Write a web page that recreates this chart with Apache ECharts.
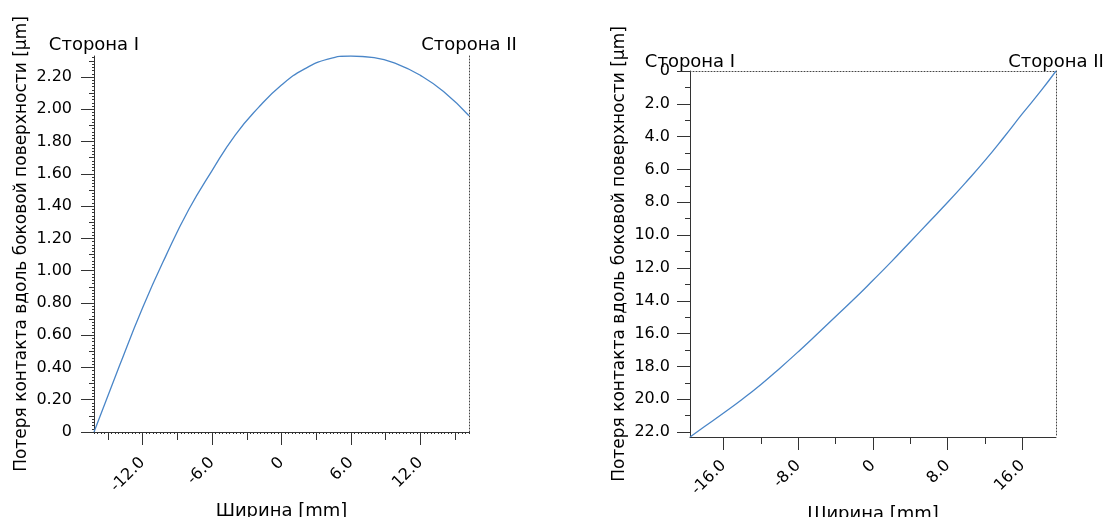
<!DOCTYPE html>
<html><head><meta charset="utf-8">
<script src="https://cdn.jsdelivr.net/npm/echarts@6/dist/echarts.min.js"></script>
<style>html,body{margin:0;padding:0;background:#fff}#c{width:1103px;height:517px}</style>
</head><body><div id="c"></div>
<script>
// ---- data ----
const leftX = [-16.2, -14, -12, -10, -8, -6, -4, -2, 0, 2, 4, 6, 8, 10, 12, 14, 16.2];
const leftY = [0, 0.41, 0.77, 1.09, 1.38, 1.62, 1.84, 2.01, 2.15, 2.25, 2.31, 2.33, 2.32, 2.28, 2.21, 2.11, 1.96];
const rightX = [-19.6, -18, -16, -14, -12, -10, -8, -6, -4, -2, 0, 2, 4, 6, 8, 10, 12, 14, 16, 18, 19.6];
const rightY = [22.3, 21.65, 20.84, 20.0, 19.1, 18.12, 17.1, 16.04, 14.96, 13.88, 12.75, 11.6, 10.4, 9.2, 8.0, 6.75, 5.45, 4.05, 2.6, 1.2, 0];

const leftXTicks = [-12, -6, 0, 6, 12];
const leftXMinor = [-15, -9, -3, 3, 9, 15];
const leftYTicks = [0, 0.2, 0.4, 0.6, 0.8, 1.0, 1.2, 1.4, 1.6, 1.8, 2.0, 2.2];
const leftYMinor = [0.1, 0.3, 0.5, 0.7, 0.9, 1.1, 1.3, 1.5, 1.7, 1.9, 2.1, 2.3];
const rightXTicks = [-16, -8, 0, 8, 16];
const rightXMinor = [-12, -4, 4, 12];
const rightYTicks = [0, 2, 4, 6, 8, 10, 12, 14, 16, 18, 20, 22];
const rightYMinor = [1, 3, 5, 7, 9, 11, 13, 15, 17, 19, 21];

const sideLabels = ['Сторона I', 'Сторона II'];
const xTitle = 'Ширина [mm]';
const yTitle = 'Потеря контакта вдоль боковой поверхности [μm]';

const L = {xmin: -16.2, xmax: 16.2, ymin: 0, ymax: 2.33};
const R = {xmin: -19.6, xmax: 19.6, ymin: 0, ymax: 22.3};

// ---- styling ----
const FONT = 'DejaVu Sans';
const TXT = '#000';
const AX = '#333';
const LINE = '#4a86c8';

function fmtX(v){ return v === 0 ? '0' : v.toFixed(1); }
function fmtYL(v){ return Math.abs(v) < 1e-9 ? '0' : v.toFixed(2); }
function fmtYR(v){ return Math.abs(v) < 1e-9 ? '0' : v.toFixed(1); }

// fine "ruler" ticks for left chart
const fineX = []; for (let v = -16.2; v <= 16.2 + 1e-9; v += 0.3) fineX.push(+v.toFixed(3));
const fineY = []; for (let v = 0; v <= 2.33 + 1e-9; v += 0.02) fineY.push(+v.toFixed(3));

const gL = {left: 94, top: 56, width: 375, height: 376, outerBoundsMode: 'none', containLabel: false};
const gR = {left: 690, top: 71, width: 366, height: 366, outerBoundsMode: 'none', containLabel: false};
const grids = [
  Object.assign({}, gL),   // 0 left main
  Object.assign({}, gL),   // 1 left overlay
  Object.assign({}, gL),   // 2 left fine
  Object.assign({}, gR),   // 3 right main
  Object.assign({}, gR)    // 4 right overlay
];

const baseLabel = {fontFamily: FONT, color: TXT, fontSize: 16};
const hidden = {show: false};

function mainX(grid, ext, ticks, margin, nameGap){
  return {
    type: 'value', gridIndex: grid, position: 'bottom', min: ext.xmin, max: ext.xmax,
    axisLine: {show: true, onZero: false, lineStyle: {color: AX, width: 1}},
    axisTick: {show: true, customValues: ticks, length: 13, lineStyle: {color: AX}},
    axisLabel: Object.assign({}, baseLabel, {customValues: ticks, rotate: 45, margin: margin, formatter: fmtX}),
    splitLine: hidden,
    name: xTitle, nameLocation: 'middle', nameGap: nameGap,
    nameTextStyle: {fontFamily: FONT, color: TXT, fontSize: 18, verticalAlign: 'top'}
  };
}
function minorX(grid, ext, ticks, len){
  return {
    type: 'value', gridIndex: grid, position: 'bottom', min: ext.xmin, max: ext.xmax,
    axisLine: {show: false, onZero: false},
    axisTick: {show: true, customValues: ticks, length: len, lineStyle: {color: AX}},
    axisLabel: hidden, splitLine: hidden
  };
}
function sideX(grid, ext, showLine, margin){
  return {
    type: 'value', gridIndex: grid, position: 'top', min: ext.xmin, max: ext.xmax,
    axisLine: {show: showLine, onZero: false, lineStyle: {color: '#444', type: [1, 2]}},
    axisTick: hidden,
    axisLabel: Object.assign({}, baseLabel, {fontSize: 18, customValues: [ext.xmin, ext.xmax], margin: margin,
      showMinLabel: true, showMaxLabel: true,
      formatter: v => (Math.abs(v - ext.xmin) < 1e-6 ? sideLabels[0] : sideLabels[1])}),
    splitLine: hidden
  };
}
function mainY(grid, ext, ticks, fmt, inverse, margin, nameGap){
  return {
    type: 'value', gridIndex: grid, position: 'left', min: ext.ymin, max: ext.ymax, inverse: inverse,
    axisLine: {show: true, onZero: false, lineStyle: {color: AX, width: 1}},
    axisTick: {show: true, customValues: ticks, length: 13, lineStyle: {color: AX}},
    axisLabel: Object.assign({}, baseLabel, {customValues: ticks, margin: margin, formatter: fmt}),
    splitLine: hidden,
    name: yTitle, nameLocation: 'middle', nameGap: nameGap, nameRotate: 90,
    nameTextStyle: {fontFamily: FONT, color: TXT, fontSize: 17}
  };
}
function minorY(grid, ext, ticks, len, inverse){
  return {
    type: 'value', gridIndex: grid, position: 'left', min: ext.ymin, max: ext.ymax, inverse: inverse,
    axisLine: {show: false, onZero: false},
    axisTick: {show: true, customValues: ticks, length: len, lineStyle: {color: AX}},
    axisLabel: hidden, splitLine: hidden
  };
}
function edgeY(grid, ext, inverse){
  return {
    type: 'value', gridIndex: grid, position: 'right', min: ext.ymin, max: ext.ymax, inverse: inverse,
    axisLine: {show: true, onZero: false, lineStyle: {color: '#444', type: [1, 2]}},
    axisTick: hidden, axisLabel: hidden, splitLine: hidden
  };
}

const option = {
  animation: false,
  backgroundColor: '#fff',
  textStyle: {fontFamily: FONT},
  grid: grids,
  xAxis: [
    mainX(0, L, leftXTicks, 28, 70),       // 0
    minorX(1, L, leftXMinor, 8),           // 1
    sideX(1, L, false, 2),                 // 2
    minorX(2, L, fineX, 2),                // 3
    mainX(3, R, rightXTicks, 26, 68),      // 4
    minorX(4, R, rightXMinor, 7),          // 5
    sideX(4, R, true, 0)                   // 6
  ],
  yAxis: [
    mainY(0, L, leftYTicks, fmtYL, false, 22, 64),  // 0
    minorY(1, L, leftYMinor, 5, false),             // 1
    edgeY(1, L, false),                             // 2
    minorY(2, L, fineY, 2, false),                  // 3
    mainY(3, R, rightYTicks, fmtYR, true, 20, 62),  // 4
    minorY(4, R, rightYMinor, 5, true),             // 5
    edgeY(4, R, true)                               // 6
  ],
  series: [
    {type: 'line', xAxisIndex: 0, yAxisIndex: 0, showSymbol: false, smooth: 0.5,
     lineStyle: {color: LINE, width: 1.3}, data: leftX.map((x, i) => [x, leftY[i]])},
    {type: 'line', xAxisIndex: 4, yAxisIndex: 4, showSymbol: false, smooth: 0.5,
     lineStyle: {color: LINE, width: 1.3}, data: rightX.map((x, i) => [x, rightY[i]])}
  ]
};
const chart = echarts.init(document.getElementById('c'), null, {renderer: 'canvas'});
chart.setOption(option);
</script>
</body></html>
